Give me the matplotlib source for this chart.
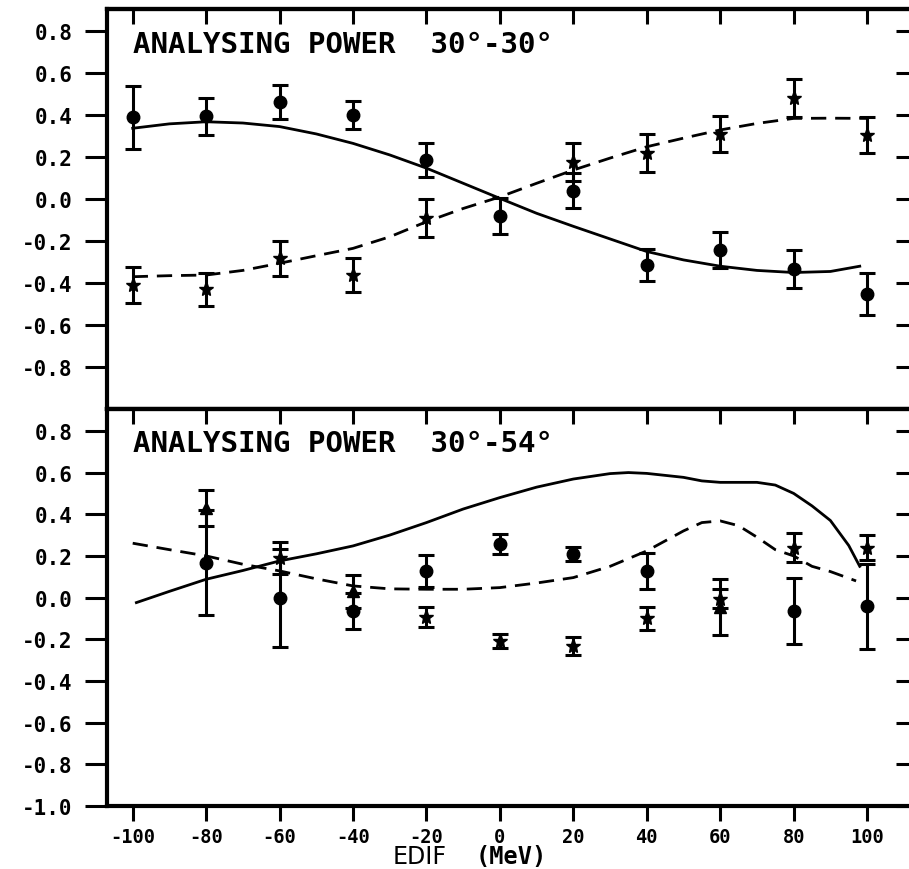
import matplotlib
matplotlib.use("Agg")
import matplotlib.pyplot as plt

# measured analysing power, 30-30 deg geometry
edif = [-100, -80, -60, -40, -20, 0, 20, 40, 60, 80, 100]
ap3030_dot = [0.39, 0.395, 0.463, 0.40, 0.186, -0.082, 0.04, -0.314, -0.243, -0.335, -0.452]
ap3030_dot_err = [0.15, 0.088, 0.08, 0.065, 0.08, 0.085, 0.085, 0.075, 0.085, 0.09, 0.10]
edif_star = [-100, -80, -60, -40, -20, 20, 40, 60, 80, 100]
ap3030_star = [-0.41, -0.43, -0.283, -0.362, -0.092, 0.178, 0.218, 0.31, 0.48, 0.305]
ap3030_star_err = [0.085, 0.08, 0.085, 0.08, 0.09, 0.09, 0.09, 0.087, 0.09, 0.087]

# measured analysing power, 30-54 deg geometry
edif54_dot = [-80, -60, -40, -20, 0, 20, 40, 80, 100]
ap3054_dot = [0.168, -0.003, -0.064, 0.128, 0.256, 0.21, 0.128, -0.064, -0.042]
ap3054_dot_err = [0.25, 0.235, 0.085, 0.075, 0.047, 0.035, 0.085, 0.157, 0.205]
edif54_star = [-60, -20, 0, 20, 40, 60, 80, 100]
ap3054_star = [0.19, -0.093, -0.208, -0.232, -0.10, -0.005, 0.24, 0.24]
ap3054_star_err = [0.075, 0.05, 0.035, 0.042, 0.055, 0.045, 0.07, 0.06]
edif54_tri = [-80, -40, 60]
ap3054_tri = [0.43, 0.03, -0.045]
ap3054_tri_err = [0.085, 0.08, 0.135]

# model curves
fit3030_solid_x = [-100, -90, -80, -70, -60, -50, -40, -30, -20, -10, 0, 10, 20, 30, 40, 50, 60, 70, 80, 90, 98]
fit3030_solid = [0.337, 0.358, 0.368, 0.362, 0.345, 0.31, 0.265, 0.21, 0.147, 0.075, 0.003, -0.068, -0.13,
                 -0.19, -0.25, -0.29, -0.32, -0.34, -0.35, -0.345, -0.32]
fit3030_dash_x = [-100, -90, -80, -70, -60, -50, -40, -30, -20, -10, 0, 10, 20, 30, 40, 50, 60, 70, 80, 90, 100]
fit3030_dash = [-0.37, -0.365, -0.362, -0.34, -0.306, -0.27, -0.235, -0.18, -0.108, -0.045, 0.01, 0.075, 0.138,
                0.195, 0.249, 0.29, 0.329, 0.36, 0.384, 0.385, 0.384]
fit3054_solid_x = [-99, -90, -80, -70, -60, -50, -40, -30, -20, -10, 0, 10, 20, 30, 35, 40, 50, 55, 60, 70, 75,
                   80, 85, 90, 95, 98]
fit3054_solid = [-0.024, 0.03, 0.088, 0.13, 0.176, 0.21, 0.248, 0.30, 0.36, 0.425, 0.48, 0.53, 0.569, 0.595, 0.60,
                 0.596, 0.577, 0.56, 0.553, 0.553, 0.54, 0.50, 0.44, 0.37, 0.25, 0.15]
fit3054_dash_x = [-100, -90, -80, -70, -60, -50, -40, -30, -20, -10, 0, 10, 20, 30, 40, 50, 55, 60, 65, 70, 75,
                  80, 85, 90, 97]
fit3054_dash = [0.261, 0.23, 0.2, 0.16, 0.128, 0.09, 0.056, 0.042, 0.04, 0.04, 0.048, 0.07, 0.096, 0.15, 0.224,
                0.32, 0.36, 0.368, 0.345, 0.29, 0.23, 0.2, 0.15, 0.125, 0.08]

xticks = [-100, -80, -60, -40, -20, 0, 20, 40, 60, 80, 100]
yticks = [0.8, 0.6, 0.4, 0.2, 0.0, -0.2, -0.4, -0.6, -0.8, -1.0]

mono = "DejaVu Sans Mono"
dash = (0, (5.5, 3.2))
err_kw = dict(color="k", ecolor="k", elinewidth=2.2, capsize=6, capthick=2.2, linestyle="none")


def style_axes(ax, ylabels):
    ax.set_xlim(-107, 112.5)
    ax.set_ylim(-1.0, 0.905)
    for side in ax.spines.values():
        side.set_linewidth(3)
    ax.spines["right"].set_visible(False)
    ax.set_xticks(xticks)
    ax.set_yticks(ylabels)
    ax.set_yticklabels(["%.1f" % v for v in ylabels], family=mono, fontweight="bold", fontsize=15)
    ax.tick_params(axis="y", left=True, right=False, direction="out", length=16, width=2.2, pad=9)
    ax.tick_params(axis="x", top=False, bottom=False, labelbottom=False)

    # inward ticks on the top and right edges
    top = ax.secondary_xaxis("top")
    top.set_xticks(xticks)
    top.set_xticklabels([])
    top.tick_params(direction="in", length=11, width=2.2)
    top.spines["top"].set_linewidth(3)
    right = ax.secondary_yaxis("right")
    right.set_yticks(ylabels)
    right.set_yticklabels([])
    right.tick_params(direction="in", length=12, width=2.2)
    right.spines["right"].set_visible(False)


fig = plt.figure(figsize=(9.09, 8.70), dpi=100)
ax1 = fig.add_axes([107 / 909, 1 - 410 / 870, 806 / 909, 400 / 870])
ax2 = fig.add_axes([107 / 909, 1 - 807 / 870, 806 / 909, 397 / 870])

# upper panel
ax1.plot(fit3030_solid_x, fit3030_solid, color="k", lw=2)
ax1.plot(fit3030_dash_x, fit3030_dash, color="k", lw=2, linestyle=dash)
ax1.errorbar(edif, ap3030_dot, yerr=ap3030_dot_err, marker="o", ms=9, **err_kw)
ax1.errorbar(edif_star, ap3030_star, yerr=ap3030_star_err, marker="*", ms=11, **err_kw)
style_axes(ax1, yticks[:-1])
ax1.text(-100, 0.74, "ANALYSING POWER  30°-30°", family=mono, fontsize=21, fontweight="bold", va="center")

# lower panel
ax2.plot(fit3054_solid_x, fit3054_solid, color="k", lw=2)
ax2.plot(fit3054_dash_x, fit3054_dash, color="k", lw=2, linestyle=dash)
ax2.errorbar(edif54_dot, ap3054_dot, yerr=ap3054_dot_err, marker="o", ms=9, **err_kw)
ax2.errorbar(edif54_star, ap3054_star, yerr=ap3054_star_err, marker="*", ms=11, **err_kw)
ax2.errorbar(edif54_tri, ap3054_tri, yerr=ap3054_tri_err, marker="^", ms=9, **err_kw)
style_axes(ax2, yticks)
ax2.tick_params(axis="x", bottom=True, labelbottom=True, direction="out", length=11, width=2.2, pad=4)
ax2.set_xticklabels(["%d" % v for v in xticks], family=mono, fontweight="bold", fontsize=13.5)
ax2.text(-100, 0.74, "ANALYSING POWER  30°-54°", family=mono, fontsize=21, fontweight="bold", va="center")

fig.text(393 / 909, 1 - 857 / 870, "EDIF", family="DejaVu Sans", fontsize=17, va="center", ha="left")
fig.text(476 / 909, 1 - 857 / 870, "(MeV)", family=mono, fontsize=17, fontweight="bold", va="center",
         ha="left")

plt.savefig("out.png", dpi=100)
